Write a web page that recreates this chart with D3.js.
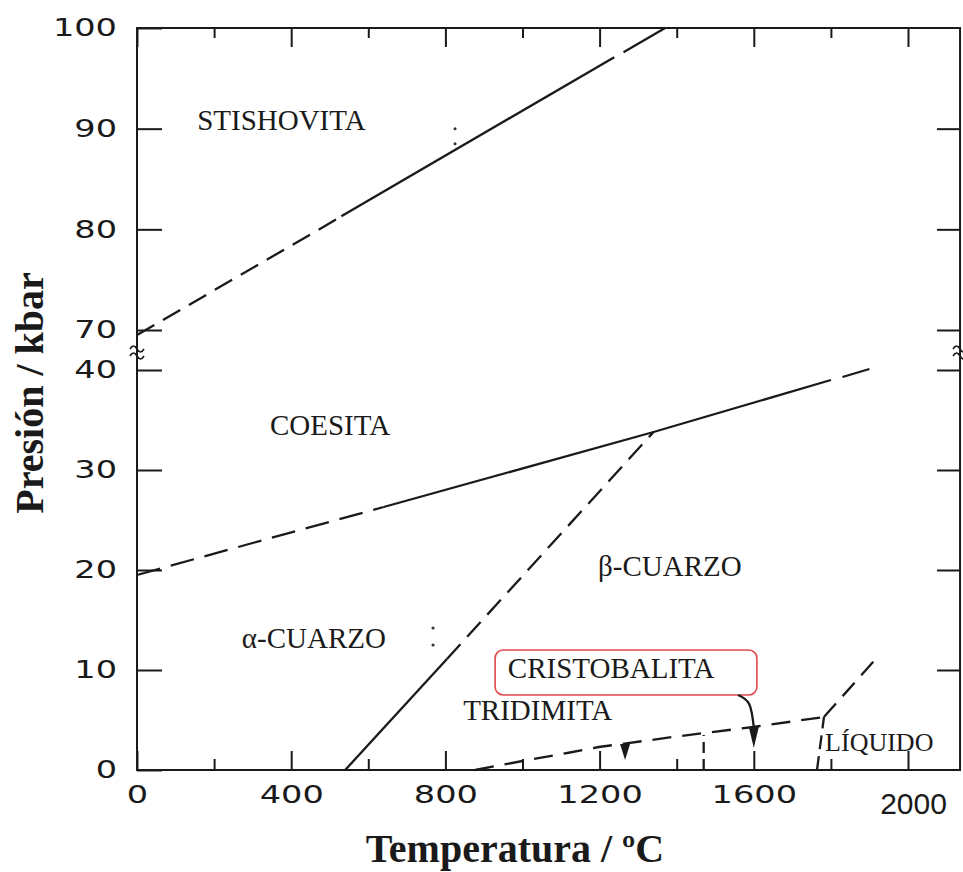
<!DOCTYPE html>
<html lang="es">
<head>
<meta charset="UTF-8" />
<title>Diagrama de fases SiO2</title>
<style>
  body { margin: 0; background: #fff; }
  text { fill: #1a1a1a; }
</style>
</head>
<body>
<svg width="963" height="872" id="svg"></svg>
<script src="https://cdn.jsdelivr.net/npm/d3@7/dist/d3.min.js"></script>
<script>
// ---- datos (T en ºC, P en kbar) ----
const xMajorTicks = [0, 400, 800, 1200, 1600, 2000]
const xMinorTicks = [200, 600, 1000, 1400, 1800]
const yUpperTicks = [70, 80, 90, 100]
const yLowerTicks = [0, 10, 20, 30, 40]
const tMax = 2135

// coesita / stishovita
const stiDashedA = [[0, 69.5], [522, 81.1]]
const stiSolid = [[530, 81.3], [1238, 97.1]]
const stiDashedB = [[1262, 97.6], [1370, 100]]

// alfa/beta cuarzo / coesita
const coeDashedA = [[0, 19.5], [300, 22.7], [640, 26.3]]
const coeSolid = [[640, 26.3], [1340, 33.8], [1800, 39.0]]
const coeDashedB = [[1830, 39.3], [1900, 40.1]]

// alfa / beta cuarzo
const abSolid = [[540, 0], [804, 11.1]]
const abDashed = [[804, 11.1], [1340, 33.8]]

// beta cuarzo / tridimita, cristobalita
const tridLine = [[877, 0], [1000, 0.9], [1123, 1.75], [1198, 2.3], [1400, 3.35], [1598, 4.3], [1782, 5.3]]
const tridCrist = [[1470, 0], [1470, 3.5]]
const cristLiq = [[1764, 0], [1782, 5.3]]
const liqLine = [[1782, 5.3], [1914, 11.0]]

// flechas: [T, P base, P punta]
const arrowHeads = [[1266, 2.6, 1.0], [1600, 4.3, 2.2]]
const calloutCurve = [[1559, 7.5], [1588, 6.6], [1600, 4.3]]
const calloutBox = [[929, 12.0], [1608, 7.5]]

// puntos sueltos
const upperDots = [[825, 90.0], [825, 88.5]]
const lowerDots = [[768, 14.2], [768, 12.5]]

// etiquetas de fase
const upperLabels = [["STISHOVITA", 156, 89.9]]
const lowerLabels = [
  ["COESITA", 345, 33.5],
  ["β-CUARZO", 1196, 19.4],
  ["α-CUARZO", 272, 12.2],
  ["CRISTOBALITA", 962, 9.2],
  ["TRIDIMITA", 846, 5.0],
  ["LÍQUIDO", 1785, 1.9],
]

// ---- escalas ----
const svg = d3.select("#svg")
const x = d3.scaleLinear().domain([0, 2000]).range([137, 908])
const yUp = d3.scaleLinear().domain([70, 100]).range([330, 28])
const yLow = d3.scaleLinear().domain([0, 40]).range([770, 370])

const pLeft = x(0), pRight = x(tMax), pTop = yUp(100), pBottom = yLow(0)
const ink = "#1a1a1a"
const numFont = "'DejaVu Sans', sans-serif"
const sx = 1.4
const fmt = d3.format("d")

// marco
svg.append("path")
  .attr("d", `M${pLeft},${pTop}H${pRight}V${pBottom}H${pLeft}Z`)
  .attr("fill", "none").attr("stroke", ink).attr("stroke-width", 2)

function cleanAxis(g) {
  g.select(".domain").remove()
  g.selectAll(".tick line").attr("stroke", ink).attr("stroke-width", 2)
}

// eje inferior
const gxb = svg.append("g").attr("transform", `translate(0,${pBottom})`)
  .call(d3.axisBottom(x).tickValues(xMajorTicks).tickFormat(fmt)
    .tickSizeInner(-19).tickSizeOuter(0).tickPadding(16))
  .call(cleanAxis)
gxb.selectAll("text")
  .attr("font-family", numFont).attr("font-size", 24).attr("fill", ink)
  .attr("transform", `scale(${sx},1)`)
gxb.selectAll(".tick").filter(d => d === 2000).select("text")
  .attr("font-family", "'Liberation Sans', Arial, sans-serif").attr("font-size", 30)
  .attr("transform", null).attr("x", 5).attr("y", 23)
svg.append("g").attr("transform", `translate(0,${pBottom})`)
  .call(d3.axisBottom(x).tickValues(xMinorTicks).tickSize(-11).tickFormat(""))
  .call(cleanAxis)

// eje superior
svg.append("g").attr("transform", `translate(0,${pTop})`)
  .call(d3.axisTop(x).tickValues(xMajorTicks).tickSize(-19).tickFormat(""))
  .call(cleanAxis)
svg.append("g").attr("transform", `translate(0,${pTop})`)
  .call(d3.axisTop(x).tickValues(xMinorTicks).tickSize(-10).tickFormat(""))
  .call(cleanAxis)

// ejes izquierdos
function leftAxis(scale, ticks) {
  const g = svg.append("g").attr("transform", `translate(${pLeft},0)`)
    .call(d3.axisLeft(scale).tickValues(ticks).tickFormat(fmt)
      .tickSizeInner(-25).tickSizeOuter(0).tickPadding(20))
    .call(cleanAxis)
  g.selectAll("text")
    .attr("font-family", numFont).attr("font-size", 24).attr("fill", ink)
    .attr("x", -20 / sx).attr("transform", `scale(${sx},1)`)
}
leftAxis(yUp, yUpperTicks)
leftAxis(yLow, yLowerTicks)

// ejes derechos
svg.append("g").attr("transform", `translate(${pRight},0)`)
  .call(d3.axisRight(yUp).tickValues(yUpperTicks.slice(0, 3)).tickSize(-23).tickFormat(""))
  .call(cleanAxis)
svg.append("g").attr("transform", `translate(${pRight},0)`)
  .call(d3.axisRight(yLow).tickValues(yLowerTicks.slice(1)).tickSize(-23).tickFormat(""))
  .call(cleanAxis)

// marcas de corte del eje
const breakY = (yUp(70) + yLow(40)) / 2 + 1
;[pLeft, pRight].forEach(bx => {
  ;[-4, 3].forEach(off => {
    svg.append("path")
      .attr("d", `M${bx - 7},${breakY + off + 2} q3.5,-6 7,0 t7,0`)
      .attr("fill", "none").attr("stroke", ink).attr("stroke-width", 1.6)
  })
})

// líneas de fase
function drawLine(data, yScale, dash, curve) {
  svg.append("path")
    .datum(data)
    .attr("d", d3.line().x(d => x(d[0])).y(d => yScale(d[1])).curve(curve || d3.curveLinear))
    .attr("fill", "none").attr("stroke", ink).attr("stroke-width", 2.3)
    .attr("stroke-dasharray", dash || null)
}
const dashLong = "20,10"
drawLine(stiDashedA, yUp, dashLong)
drawLine(stiSolid, yUp)
drawLine(stiDashedB, yUp)
drawLine(coeDashedA, yLow, "24,11")
drawLine(coeSolid, yLow)
drawLine(coeDashedB, yLow)
drawLine(abSolid, yLow)
drawLine(abDashed, yLow, dashLong)
drawLine(tridLine, yLow, "19,11")
drawLine(tridCrist, yLow, "11,6")
drawLine(cristLiq, yLow, "14,7")
drawLine(liqLine, yLow, "18,10")

// callout CRISTOBALITA
svg.append("rect")
  .attr("x", x(calloutBox[0][0])).attr("y", yLow(calloutBox[0][1]))
  .attr("width", x(calloutBox[1][0]) - x(calloutBox[0][0]))
  .attr("height", yLow(calloutBox[1][1]) - yLow(calloutBox[0][1]))
  .attr("rx", 8).attr("fill", "none").attr("stroke", "#e0484e").attr("stroke-width", 1.6)
drawLine(calloutCurve, yLow, null, d3.curveNatural)

svg.selectAll(".arrowhead").data(arrowHeads).join("path")
  .attr("class", "arrowhead")
  .attr("d", d => {
    const cx = x(d[0]), y0 = yLow(d[1]), y1 = yLow(d[2])
    return `M${cx - 5},${y0}L${cx + 5},${y0}L${cx},${y1}Z`
  })
  .attr("fill", ink)

// puntos
svg.selectAll(".dotU").data(upperDots).join("circle")
  .attr("class", "dotU").attr("cx", d => x(d[0])).attr("cy", d => yUp(d[1]))
  .attr("r", 1.5).attr("fill", "#333")
svg.selectAll(".dotL").data(lowerDots).join("circle")
  .attr("class", "dotL").attr("cx", d => x(d[0])).attr("cy", d => yLow(d[1]))
  .attr("r", 1.6).attr("fill", "#333")

// etiquetas
const serif = "'Liberation Serif', 'Times New Roman', serif"
svg.selectAll(".lblU").data(upperLabels).join("text")
  .attr("class", "lblU").attr("x", d => x(d[1])).attr("y", d => yUp(d[2]))
  .attr("font-family", serif).attr("font-size", 29).text(d => d[0])
svg.selectAll(".lblL").data(lowerLabels).join("text")
  .attr("class", "lblL").attr("x", d => x(d[1])).attr("y", d => yLow(d[2]))
  .attr("font-family", serif).attr("font-size", d => d[0] === "LÍQUIDO" ? 26 : 29)
  .text(d => d[0])

// títulos de ejes
svg.append("text")
  .attr("x", 515).attr("y", 862).attr("text-anchor", "middle")
  .attr("font-family", serif).attr("font-weight", "bold").attr("font-size", 40)
  .text("Temperatura / ºC")
svg.append("text")
  .attr("transform", "translate(43,393) rotate(-90)").attr("text-anchor", "middle")
  .attr("font-family", serif).attr("font-weight", "bold").attr("font-size", 40)
  .text("Presión / kbar")
</script>
</body>
</html>
